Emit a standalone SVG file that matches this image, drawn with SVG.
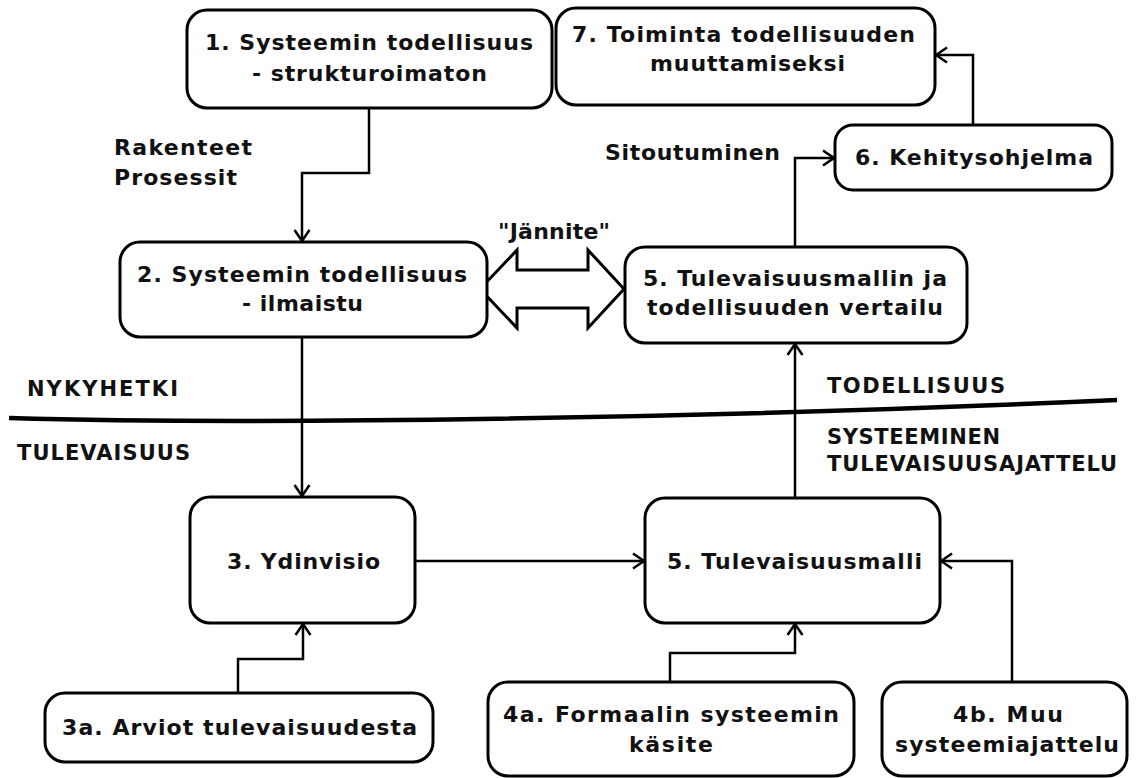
<svg xmlns="http://www.w3.org/2000/svg" width="1138" height="778" viewBox="0 0 1138 778">
<defs>
<style>
.box{fill:#fff;stroke:#000;stroke-width:3}
.t{font-family:"DejaVu Sans","Liberation Sans",sans-serif;font-weight:bold;font-size:22px;fill:#111}
.u{font-size:21px}
.c{fill:none;stroke:#000;stroke-width:2.5}
</style>
<marker id="ah" viewBox="0 0 14 18" refX="12.5" refY="9" markerWidth="14" markerHeight="18" markerUnits="userSpaceOnUse" orient="auto">
<path d="M1.5,1.5 L12.5,9 L1.5,16.5" fill="none" stroke="#000" stroke-width="2.5"/>
</marker>
</defs>
<rect width="1138" height="778" fill="#fff"/>
<g id="connectors">
<path class="c" d="M369,108 V173 H302 V241" marker-end="url(#ah)"/>
<path class="c" d="M302,337 V496" marker-end="url(#ah)"/>
<path class="c" d="M415,561 H644" marker-end="url(#ah)"/>
<path class="c" d="M795,498 V344" marker-end="url(#ah)"/>
<path class="c" d="M795,247 V158 H834" marker-end="url(#ah)"/>
<path class="c" d="M973,125 V55 H936" marker-end="url(#ah)"/>
<path class="c" d="M238,693 V659 H303 V624" marker-end="url(#ah)"/>
<path class="c" d="M670,682 V653 H795 V624" marker-end="url(#ah)"/>
<path class="c" d="M1012,682 V561 H941" marker-end="url(#ah)"/>
<polygon points="480,289 517,250 517,270 588,270 588,250 624,289 588,328 588,308 517,308 517,328" fill="#fff" stroke="#000" stroke-width="3" stroke-linejoin="miter"/>
<path d="M9,418 C250,425 700,419 1117,400" fill="none" stroke="#000" stroke-width="4.5"/>
</g>
<g id="n1">
<rect class="box" x="187" y="10" width="365" height="98" rx="20"/>
<text class="t" x="205" y="50" textLength="328" lengthAdjust="spacing">1. Systeemin todellisuus</text>
<text class="t" x="252" y="81" textLength="235" lengthAdjust="spacing">- strukturoimaton</text>
</g>
<g id="n7">
<rect class="box" x="556" y="8" width="379" height="97" rx="20"/>
<text class="t" x="572" y="42" textLength="343" lengthAdjust="spacing">7. Toiminta todellisuuden</text>
<text class="t" x="650" y="71" textLength="195" lengthAdjust="spacing">muuttamiseksi</text>
</g>
<g id="n6">
<rect class="box" x="835" y="125" width="277" height="65" rx="18"/>
<text class="t" x="855" y="165" textLength="238" lengthAdjust="spacing">6. Kehitysohjelma</text>
</g>
<g id="labels">
<text class="t" x="605" y="160" textLength="175" lengthAdjust="spacing">Sitoutuminen</text>
<text class="t" x="114" y="155" textLength="138" lengthAdjust="spacing">Rakenteet</text>
<text class="t" x="114" y="185" textLength="123" lengthAdjust="spacing">Prosessit</text>
<text class="t" x="498" y="239" textLength="112" lengthAdjust="spacing">"Jännite"</text>
<text class="t u" x="27" y="396" textLength="151" lengthAdjust="spacing">NYKYHETKI</text>
<text class="t u" x="17" y="460" textLength="173" lengthAdjust="spacing">TULEVAISUUS</text>
<text class="t u" x="827" y="393" textLength="178" lengthAdjust="spacing">TODELLISUUS</text>
<text class="t u" x="827" y="444" textLength="173" lengthAdjust="spacing">SYSTEEMINEN</text>
<text class="t u" x="827" y="471" textLength="290" lengthAdjust="spacing">TULEVAISUUSAJATTELU</text>
</g>
<g id="n2">
<rect class="box" x="120" y="242" width="367" height="95" rx="20"/>
<text class="t" x="137" y="282" textLength="330" lengthAdjust="spacing">2. Systeemin todellisuus</text>
<text class="t" x="242" y="311" textLength="121" lengthAdjust="spacing">- ilmaistu</text>
</g>
<g id="n5a">
<rect class="box" x="625" y="247" width="342" height="96" rx="20"/>
<text class="t" x="643" y="286" textLength="304" lengthAdjust="spacing">5. Tulevaisuusmallin ja</text>
<text class="t" x="647" y="315" textLength="296" lengthAdjust="spacing">todellisuuden vertailu</text>
</g>
<g id="n3">
<rect class="box" x="190" y="497" width="225" height="126" rx="20"/>
<text class="t" x="227" y="569" textLength="153" lengthAdjust="spacing">3. Ydinvisio</text>
</g>
<g id="n5b">
<rect class="box" x="645" y="498" width="295" height="125" rx="20"/>
<text class="t" x="667" y="569" textLength="255" lengthAdjust="spacing">5. Tulevaisuusmalli</text>
</g>
<g id="n3a">
<rect class="box" x="45" y="693" width="388" height="69" rx="20"/>
<text class="t" x="62" y="735" textLength="355" lengthAdjust="spacing">3a. Arviot tulevaisuudesta</text>
</g>
<g id="n4a">
<rect class="box" x="488" y="682" width="366" height="94" rx="20"/>
<text class="t" x="503" y="722" textLength="336" lengthAdjust="spacing">4a. Formaalin systeemin</text>
<text class="t" x="629" y="752" textLength="84" lengthAdjust="spacing">käsite</text>
</g>
<g id="n4b">
<rect class="box" x="882" y="682" width="245" height="94" rx="20"/>
<text class="t" x="953" y="722" textLength="110" lengthAdjust="spacing">4b. Muu</text>
<text class="t" x="895" y="752" textLength="224" lengthAdjust="spacing">systeemiajattelu</text>
</g>
</svg>
